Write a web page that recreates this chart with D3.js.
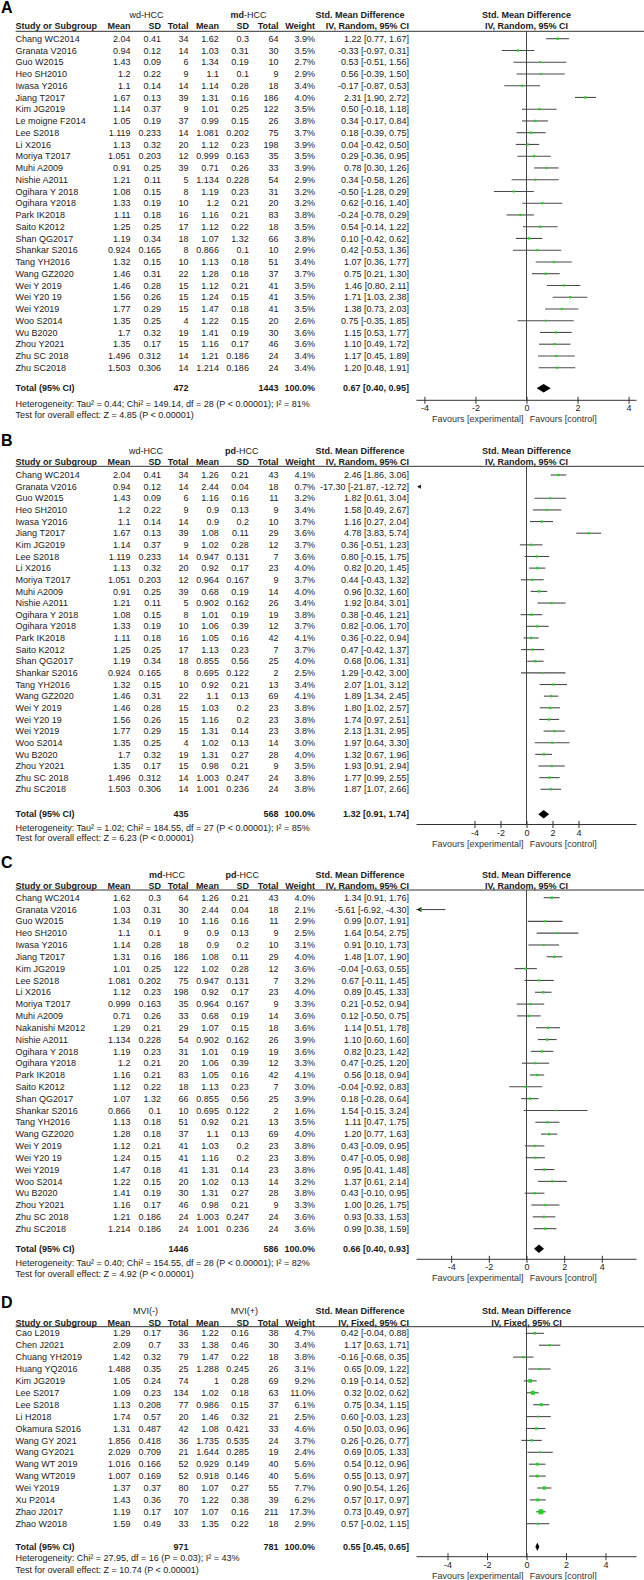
<!DOCTYPE html>
<html>
<head>
<meta charset="utf-8">
<script src="https://cdnjs.cloudflare.com/ajax/libs/d3/7.8.5/d3.min.js"></script>
<style>
body { margin: 0; background: #fff; }
svg text { font-family: "Liberation Sans", Arial, sans-serif; font-size: 9px; fill: #1a1a1a; }
</style>
</head>
<body>
<div id="chart"></div>
<script>
// ---------- Panel A: wd-HCC vs md-HCC ----------
var studiesA = ["Chang WC2014", "Granata V2016", "Guo W2015", "Heo SH2010", "Iwasa Y2016", "Jiang T2017",
    "Kim JG2019", "Le moigne F2014", "Lee S2018", "Li X2016", "Moriya T2017", "Muhi A2009", "Nishie A2011",
    "Ogihara Y 2018", "Ogihara Y2018", "Park IK2018", "Saito K2012", "Shan QG2017", "Shankar S2016",
    "Tang YH2016", "Wang GZ2020", "Wei Y 2019", "Wei Y20 19", "Wei Y2019", "Woo S2014", "Wu B2020",
    "Zhou Y2021", "Zhu SC 2018", "Zhu SC2018"];
var expA = [[2.04, 0.41, 34], [0.94, 0.12, 14], [1.43, 0.09, 6], [1.2, 0.22, 9], [1.1, 0.14, 14], [1.67, 0.13, 39],
    [1.14, 0.37, 9], [1.05, 0.19, 37], [1.119, 0.233, 14], [1.13, 0.32, 20], [1.051, 0.203, 12], [0.91, 0.25, 39],
    [1.21, 0.11, 5], [1.08, 0.15, 8], [1.33, 0.19, 10], [1.11, 0.18, 16], [1.25, 0.25, 17], [1.19, 0.34, 18],
    [0.924, 0.165, 8], [1.32, 0.15, 10], [1.46, 0.31, 22], [1.46, 0.28, 15], [1.56, 0.26, 15], [1.77, 0.29, 15],
    [1.35, 0.25, 4], [1.7, 0.32, 19], [1.35, 0.17, 15], [1.496, 0.312, 14], [1.503, 0.306, 14]];
var ctlA = [[1.62, 0.3, 64], [1.03, 0.31, 30], [1.34, 0.19, 10], [1.1, 0.1, 9], [1.14, 0.28, 18], [1.31, 0.16, 186],
    [1.01, 0.25, 122], [0.99, 0.15, 26], [1.081, 0.202, 75], [1.12, 0.23, 198], [0.999, 0.163, 35], [0.71, 0.26, 33],
    [1.134, 0.228, 54], [1.19, 0.23, 31], [1.2, 0.21, 20], [1.16, 0.21, 83], [1.12, 0.22, 18], [1.07, 1.32, 66],
    [0.866, 0.1, 10], [1.13, 0.18, 51], [1.28, 0.18, 37], [1.12, 0.21, 41], [1.24, 0.15, 41], [1.47, 0.18, 41],
    [1.22, 0.15, 20], [1.41, 0.19, 30], [1.16, 0.17, 46], [1.21, 0.186, 24], [1.214, 0.186, 24]];
var weightA = [3.9, 3.5, 2.7, 2.9, 3.4, 4.0, 3.5, 3.8, 3.7, 3.9, 3.5, 3.9, 2.9, 3.2, 3.2, 3.8, 3.5, 3.8, 2.9,
    3.4, 3.7, 3.5, 3.5, 3.5, 2.6, 3.6, 3.6, 3.4, 3.4];
var smdA = [[1.22, 0.77, 1.67], [-0.33, -0.97, 0.31], [0.53, -0.51, 1.56], [0.56, -0.39, 1.50], [-0.17, -0.87, 0.53],
    [2.31, 1.90, 2.72], [0.50, -0.18, 1.18], [0.34, -0.17, 0.84], [0.18, -0.39, 0.75], [0.04, -0.42, 0.50],
    [0.29, -0.36, 0.95], [0.78, 0.30, 1.26], [0.34, -0.58, 1.26], [-0.50, -1.28, 0.29], [0.62, -0.16, 1.40],
    [-0.24, -0.78, 0.29], [0.54, -0.14, 1.22], [0.10, -0.42, 0.62], [0.42, -0.53, 1.36], [1.07, 0.36, 1.77],
    [0.75, 0.21, 1.30], [1.46, 0.80, 2.11], [1.71, 1.03, 2.38], [1.38, 0.73, 2.03], [0.75, -0.35, 1.85],
    [1.15, 0.53, 1.77], [1.10, 0.49, 1.72], [1.17, 0.45, 1.89], [1.20, 0.48, 1.91]];
var totalA = [472, 1443];
var overallA = [0.67, 0.40, 0.95];
var groupsA = ["wd-HCC", "md-HCC"];
var hetA = "Heterogeneity: Tau\u00b2 = 0.44; Chi\u00b2 = 149.14, df = 28 (P < 0.00001); I\u00b2 = 81%";
var testA = "Test for overall effect: Z = 4.85 (P < 0.00001)";

// ---------- Panel B: wd-HCC vs pd-HCC ----------
var studiesB = ["Chang WC2014", "Granata V2016", "Guo W2015", "Heo SH2010", "Iwasa Y2016", "Jiang T2017",
    "Kim JG2019", "Lee S2018", "Li X2016", "Moriya T2017", "Muhi A2009", "Nishie A2011", "Ogihara Y 2018",
    "Ogihara Y2018", "Park IK2018", "Saito K2012", "Shan QG2017", "Shankar S2016", "Tang YH2016",
    "Wang GZ2020", "Wei Y 2019", "Wei Y20 19", "Wei Y2019", "Woo S2014", "Wu B2020", "Zhou Y2021",
    "Zhu SC 2018", "Zhu SC2018"];
var expB = [[2.04, 0.41, 34], [0.94, 0.12, 14], [1.43, 0.09, 6], [1.2, 0.22, 9], [1.1, 0.14, 14], [1.67, 0.13, 39],
    [1.14, 0.37, 9], [1.119, 0.233, 14], [1.13, 0.32, 20], [1.051, 0.203, 12], [0.91, 0.25, 39], [1.21, 0.11, 5],
    [1.08, 0.15, 8], [1.33, 0.19, 10], [1.11, 0.18, 16], [1.25, 0.25, 17], [1.19, 0.34, 18], [0.924, 0.165, 8],
    [1.32, 0.15, 10], [1.46, 0.31, 22], [1.46, 0.28, 15], [1.56, 0.26, 15], [1.77, 0.29, 15], [1.35, 0.25, 4],
    [1.7, 0.32, 19], [1.35, 0.17, 15], [1.496, 0.312, 14], [1.503, 0.306, 14]];
var ctlB = [[1.26, 0.21, 43], [2.44, 0.04, 18], [1.16, 0.16, 11], [0.9, 0.13, 9], [0.9, 0.2, 10], [1.08, 0.11, 29],
    [1.02, 0.28, 12], [0.947, 0.131, 7], [0.92, 0.17, 23], [0.964, 0.167, 9], [0.68, 0.19, 14], [0.902, 0.162, 26],
    [1.01, 0.19, 19], [1.06, 0.39, 12], [1.05, 0.16, 42], [1.13, 0.23, 7], [0.855, 0.56, 25], [0.695, 0.122, 2],
    [0.92, 0.21, 13], [1.1, 0.13, 69], [1.03, 0.2, 23], [1.16, 0.2, 23], [1.31, 0.14, 23], [1.02, 0.13, 14],
    [1.31, 0.27, 28], [0.98, 0.21, 9], [1.003, 0.247, 24], [1.001, 0.236, 24]];
var weightB = [4.1, 0.7, 3.2, 3.4, 3.7, 3.6, 3.7, 3.6, 4.0, 3.7, 4.0, 3.4, 3.8, 3.7, 4.1, 3.7, 4.0, 2.5, 3.4,
    4.1, 3.8, 3.8, 3.8, 3.0, 4.0, 3.5, 3.8, 3.8];
var smdB = [[2.46, 1.86, 3.06], [-17.30, -21.87, -12.72], [1.82, 0.61, 3.04], [1.58, 0.49, 2.67], [1.16, 0.27, 2.04],
    [4.78, 3.83, 5.74], [0.36, -0.51, 1.23], [0.80, -0.15, 1.75], [0.82, 0.20, 1.45], [0.44, -0.43, 1.32],
    [0.96, 0.32, 1.60], [1.92, 0.84, 3.01], [0.38, -0.46, 1.21], [0.82, -0.06, 1.70], [0.36, -0.22, 0.94],
    [0.47, -0.42, 1.37], [0.68, 0.06, 1.31], [1.29, -0.42, 3.00], [2.07, 1.01, 3.12], [1.89, 1.34, 2.45],
    [1.80, 1.02, 2.57], [1.74, 0.97, 2.51], [2.13, 1.31, 2.95], [1.97, 0.64, 3.30], [1.32, 0.67, 1.96],
    [1.93, 0.91, 2.94], [1.77, 0.99, 2.55], [1.87, 1.07, 2.66]];
var totalB = [435, 568];
var overallB = [1.32, 0.91, 1.74];
var groupsB = ["wd-HCC", "pd-HCC"];
var hetB = "Heterogeneity: Tau\u00b2 = 1.02; Chi\u00b2 = 184.55, df = 27 (P < 0.00001); I\u00b2 = 85%";
var testB = "Test for overall effect: Z = 6.23 (P < 0.00001)";

// ---------- Panel C: md-HCC vs pd-HCC ----------
var studiesC = ["Chang WC2014", "Granata V2016", "Guo W2015", "Heo SH2010", "Iwasa Y2016", "Jiang T2017",
    "Kim JG2019", "Lee S2018", "Li X2016", "Moriya T2017", "Muhi A2009", "Nakanishi M2012", "Nishie A2011",
    "Ogihara Y 2018", "Ogihara Y2018", "Park IK2018", "Saito K2012", "Shan QG2017", "Shankar S2016",
    "Tang YH2016", "Wang GZ2020", "Wei Y 2019", "Wei Y20 19", "Wei Y2019", "Woo S2014", "Wu B2020",
    "Zhou Y2021", "Zhu SC 2018", "Zhu SC2018"];
var expC = [[1.62, 0.3, 64], [1.03, 0.31, 30], [1.34, 0.19, 10], [1.1, 0.1, 9], [1.14, 0.28, 18], [1.31, 0.16, 186],
    [1.01, 0.25, 122], [1.081, 0.202, 75], [1.12, 0.23, 198], [0.999, 0.163, 35], [0.71, 0.26, 33], [1.29, 0.21, 29],
    [1.134, 0.228, 54], [1.19, 0.23, 31], [1.2, 0.21, 20], [1.16, 0.21, 83], [1.12, 0.22, 18], [1.07, 1.32, 66],
    [0.866, 0.1, 10], [1.13, 0.18, 51], [1.28, 0.18, 37], [1.12, 0.21, 41], [1.24, 0.15, 41], [1.47, 0.18, 41],
    [1.22, 0.15, 20], [1.41, 0.19, 30], [1.16, 0.17, 46], [1.21, 0.186, 24], [1.214, 0.186, 24]];
var ctlC = [[1.26, 0.21, 43], [2.44, 0.04, 18], [1.16, 0.16, 11], [0.9, 0.13, 9], [0.9, 0.2, 10], [1.08, 0.11, 29],
    [1.02, 0.28, 12], [0.947, 0.131, 7], [0.92, 0.17, 23], [0.964, 0.167, 9], [0.68, 0.19, 14], [1.07, 0.15, 18],
    [0.902, 0.162, 26], [1.01, 0.19, 19], [1.06, 0.39, 12], [1.05, 0.16, 42], [1.13, 0.23, 7], [0.855, 0.56, 25],
    [0.695, 0.122, 2], [0.92, 0.21, 13], [1.1, 0.13, 69], [1.03, 0.2, 23], [1.16, 0.2, 23], [1.31, 0.14, 23],
    [1.02, 0.13, 14], [1.31, 0.27, 28], [0.98, 0.21, 9], [1.003, 0.247, 24], [1.001, 0.236, 24]];
var weightC = [4.0, 2.1, 2.9, 2.5, 3.1, 4.0, 3.6, 3.2, 4.0, 3.3, 3.6, 3.6, 3.9, 3.6, 3.3, 4.1, 3.0, 3.9, 1.6,
    3.5, 4.0, 3.8, 3.8, 3.8, 3.2, 3.8, 3.3, 3.6, 3.6];
var smdC = [[1.34, 0.91, 1.76], [-5.61, -6.92, -4.30], [0.99, 0.07, 1.91], [1.64, 0.54, 2.75], [0.91, 0.10, 1.73],
    [1.48, 1.07, 1.90], [-0.04, -0.63, 0.55], [0.67, -0.11, 1.45], [0.89, 0.45, 1.33], [0.21, -0.52, 0.94],
    [0.12, -0.50, 0.75], [1.14, 0.51, 1.78], [1.10, 0.60, 1.60], [0.82, 0.23, 1.42], [0.47, -0.25, 1.20],
    [0.56, 0.18, 0.94], [-0.04, -0.92, 0.83], [0.18, -0.28, 0.64], [1.54, -0.15, 3.24], [1.11, 0.47, 1.75],
    [1.20, 0.77, 1.63], [0.43, -0.09, 0.95], [0.47, -0.05, 0.98], [0.95, 0.41, 1.48], [1.37, 0.61, 2.14],
    [0.43, -0.10, 0.95], [1.00, 0.26, 1.75], [0.93, 0.33, 1.53], [0.99, 0.38, 1.59]];
var totalC = [1446, 586];
var overallC = [0.66, 0.40, 0.93];
var groupsC = ["md-HCC", "pd-HCC"];
var hetC = "Heterogeneity: Tau\u00b2 = 0.40; Chi\u00b2 = 154.55, df = 28 (P < 0.00001); I\u00b2 = 82%";
var testC = "Test for overall effect: Z = 4.92 (P < 0.00001)";

// ---------- Panel D: MVI(-) vs MVI(+) ----------
var studiesD = ["Cao L2019", "Chen J2021", "Chuang YH2019", "Huang YQ2016", "Kim JG2019", "Lee S2017",
    "Lee S2018", "Li H2018", "Okamura S2016", "Wang GY 2021", "Wang GY2021", "Wang WT 2019", "Wang WT2019",
    "Wei Y2019", "Xu P2014", "Zhao J2017", "Zhao W2018"];
var expD = [[1.29, 0.17, 36], [2.09, 0.7, 33], [1.42, 0.32, 79], [1.488, 0.35, 25], [1.05, 0.24, 74],
    [1.09, 0.23, 134], [1.13, 0.208, 77], [1.74, 0.57, 20], [1.31, 0.487, 42], [1.856, 0.418, 36],
    [2.029, 0.709, 21], [1.016, 0.166, 52], [1.007, 0.169, 52], [1.37, 0.37, 80], [1.43, 0.36, 70],
    [1.19, 0.17, 107], [1.59, 0.49, 33]];
var ctlD = [[1.22, 0.16, 38], [1.38, 0.46, 30], [1.47, 0.22, 18], [1.288, 0.245, 26], [1, 0.28, 69],
    [1.02, 0.18, 63], [0.986, 0.15, 37], [1.46, 0.32, 21], [1.08, 0.421, 33], [1.735, 0.535, 24],
    [1.644, 0.285, 19], [0.929, 0.149, 40], [0.918, 0.146, 40], [1.07, 0.27, 55], [1.22, 0.38, 39],
    [1.07, 0.16, 211], [1.35, 0.22, 18]];
var weightD = [4.7, 3.4, 3.8, 3.1, 9.2, 11.0, 6.1, 2.5, 4.6, 3.7, 2.4, 5.6, 5.6, 7.7, 6.2, 17.3, 2.9];
var smdD = [[0.42, -0.04, 0.88], [1.17, 0.63, 1.71], [-0.16, -0.68, 0.35], [0.65, 0.09, 1.22], [0.19, -0.14, 0.52],
    [0.32, 0.02, 0.62], [0.75, 0.34, 1.15], [0.60, -0.03, 1.23], [0.50, 0.03, 0.96], [0.26, -0.26, 0.77],
    [0.69, 0.05, 1.33], [0.54, 0.12, 0.96], [0.55, 0.13, 0.97], [0.90, 0.54, 1.26], [0.57, 0.17, 0.97],
    [0.73, 0.49, 0.97], [0.57, -0.02, 1.15]];
var totalD = [971, 781];
var overallD = [0.55, 0.45, 0.65];
var groupsD = ["MVI(-)", "MVI(+)"];
var hetD = "Heterogeneity: Chi\u00b2 = 27.95, df = 16 (P = 0.03); I\u00b2 = 43%";
var testD = "Test for overall effect: Z = 10.74 (P < 0.00001)";

var tickValues = [-4, -2, 0, 2, 4];

// column anchors (right aligned numbers)
var col = { name: 15.6, mean1: 130.6, sd1: 161, n1: 188.5, mean2: 218.9, sd2: 248.9, n2: 278.5, weight: 315, ci: 409 };
var plotLeft = 416.5, plotRight = 636.5;

var panels = [
    { letter: "A", studies: studiesA, exp: expA, ctl: ctlA, weight: weightA, smd: smdA, total: totalA, overall: overallA,
      groups: groupsA, groupX: [146.4, 248.5], het: hetA, test: testA, model: "IV, Random, 95% CI", lim: 4.31,
      y: { label: 13.3, h1: 14.7, h2: 26, line: 31.3, row0: 38.7, dy: 11.75, total: 388.3, axis: 400.3, het: 404.3, test: 415 } },
    { letter: "B", studies: studiesB, exp: expB, ctl: ctlB, weight: weightB, smd: smdB, total: totalB, overall: overallB,
      groups: groupsB, groupX: [146, 241.7], het: hetB, test: testB, model: "IV, Random, 95% CI", lim: 8.46,
      y: { label: 446, h1: 451, h2: 462.3, line: 466.3, row0: 475, dy: 11.64, total: 814.3, axis: 824.5, het: 827.7, test: 838.3 } },
    { letter: "C", studies: studiesC, exp: expC, ctl: ctlC, weight: weightC, smd: smdC, total: totalC, overall: overallC,
      groups: groupsC, groupX: [167, 242.3], het: hetC, test: testC, model: "IV, Random, 95% CI", lim: 5.84,
      y: { label: 868.3, h1: 875, h2: 886, line: 890, row0: 897.7, dy: 11.82, total: 1248.7, axis: 1259.3, het: 1263, test: 1273.7 } },
    { letter: "D", studies: studiesD, exp: expD, ctl: ctlD, weight: weightD, smd: smdD, total: totalD, overall: overallD,
      groups: groupsD, groupX: [145.6, 244.4], het: hetD, test: testD, model: "IV, Fixed, 95% CI", lim: 5.57,
      y: { label: 1307.7, h1: 1311, h2: 1322.7, line: 1326.7, row0: 1333.3, dy: 11.9, total: 1546.7, axis: 1556.7, het: 1558.3, test: 1570 } }
];

var svg = d3.select("#chart").append("svg")
    .attr("width", 644)
    .attr("height", 1580);

function fmt2(v) { return v.toFixed(2); }
function ciText(s) { return fmt2(s[0]) + " [" + fmt2(s[1]) + ", " + fmt2(s[2]) + "]"; }

// small helper for a text label
function label(g, x, y, txt, anchor, bold) {
    return g.append("text")
        .attr("x", x).attr("y", y).attr("dy", "0.35em")
        .attr("text-anchor", anchor || "start")
        .style("font-weight", bold ? "bold" : "normal")
        .text(txt);
}

function drawPanel(p) {
    var g = svg.append("g");
    var Y = p.y;
    var x = d3.scaleLinear().domain([-p.lim, p.lim]).range([plotLeft, plotRight]);
    var x0 = x(0);

    // panel letter
    g.append("text").attr("x", 1).attr("y", Y.label)
        .style("font-size", "16px").style("font-weight", "bold").style("fill", "#000")
        .text(p.letter);

    // group headers (md / pd prefix shown bold)
    p.groups.forEach(function(name, k) {
        var t = g.append("text").attr("x", p.groupX[k]).attr("y", Y.h1).attr("dy", "0.35em")
            .attr("text-anchor", "middle");
        var m = name.match(/^(md|pd|wd)(-.*)$/);
        if (m) {
            t.append("tspan").style("font-weight", m[1] === "wd" ? "normal" : "bold").text(m[1]);
            t.append("tspan").text(m[2]);
        } else {
            t.text(name);
        }
    });
    label(g, 404.5, Y.h1, "Std. Mean Difference", "end", true);
    label(g, x0, Y.h1, "Std. Mean Difference", "middle", true);

    // column headers
    label(g, col.name, Y.h2, "Study or Subgroup", "start", true);
    [["mean1", "Mean"], ["sd1", "SD"], ["n1", "Total"], ["mean2", "Mean"], ["sd2", "SD"], ["n2", "Total"], ["weight", "Weight"]]
        .forEach(function(h) { label(g, col[h[0]], Y.h2, h[1], "end", true); });
    label(g, col.ci, Y.h2, p.model, "end", true);
    label(g, x0, Y.h2, p.model, "middle", true);

    // header rule
    g.append("line").attr("x1", col.name).attr("x2", 644).attr("y1", Y.line).attr("y2", Y.line)
        .attr("stroke", "#333").attr("stroke-width", 1);

    function rowY(i) { return Y.row0 + i * Y.dy; }

    // table rows
    var rows = g.selectAll("g.row").data(p.studies).enter().append("g").attr("class", "row");
    rows.append("text").attr("x", col.name).attr("y", function(d, i) { return rowY(i); }).attr("dy", "0.35em")
        .text(function(d) { return d; });
    var cells = [
        ["mean1", function(i) { return p.exp[i][0]; }], ["sd1", function(i) { return p.exp[i][1]; }],
        ["n1", function(i) { return p.exp[i][2]; }], ["mean2", function(i) { return p.ctl[i][0]; }],
        ["sd2", function(i) { return p.ctl[i][1]; }], ["n2", function(i) { return p.ctl[i][2]; }],
        ["weight", function(i) { return p.weight[i].toFixed(1) + "%"; }], ["ci", function(i) { return ciText(p.smd[i]); }]
    ];
    cells.forEach(function(c) {
        rows.append("text").attr("x", col[c[0]]).attr("y", function(d, i) { return rowY(i); }).attr("dy", "0.35em")
            .attr("text-anchor", "end")
            .text(function(d, i) { return String(c[1](i)); });
    });

    // total row
    label(g, col.name, Y.total, "Total (95% CI)", "start", true);
    label(g, col.n1, Y.total, String(p.total[0]), "end", true);
    label(g, col.n2, Y.total, String(p.total[1]), "end", true);
    label(g, col.weight, Y.total, "100.0%", "end", true);
    label(g, col.ci, Y.total, ciText(p.overall), "end", true);
    label(g, col.name, Y.het, p.het, "start", false);
    label(g, col.name, Y.test, p.test, "start", false);

    // zero line
    g.append("line").attr("x1", x0).attr("x2", x0).attr("y1", Y.line).attr("y2", Y.axis)
        .attr("stroke", "#444").attr("stroke-width", 1);

    // CI lines, markers, off-scale arrows
    var lo = -p.lim, hi = p.lim;
    p.smd.forEach(function(s, i) {
        var y = rowY(i);
        if (s[2] < lo) {
            // entirely off the left edge: small arrowhead
            g.append("path")
                .attr("d", "M" + (plotLeft + 0.5) + "," + y + "L" + (plotLeft + 4.5) + "," + (y - 2.2) + "L" + (plotLeft + 4.5) + "," + (y + 2.2) + "Z")
                .attr("fill", "#222");
            return;
        }
        var a = Math.max(s[1], lo), b = Math.min(s[2], hi);
        g.append("line").attr("x1", x(a)).attr("x2", x(b)).attr("y1", y).attr("y2", y)
            .attr("stroke", "#4a4a4a").attr("stroke-width", 1.1);
        if (s[1] < lo) {
            g.append("path")
                .attr("d", "M" + plotLeft + "," + y + "L" + (plotLeft + 5) + "," + (y - 2.5) + "L" + (plotLeft + 5) + "," + (y + 2.5) + "Z")
                .attr("fill", "#222");
        }
        if (s[0] >= lo && s[0] <= hi) {
            var side = 1.2 * Math.sqrt(p.weight[i]);
            g.append("rect").attr("x", x(s[0]) - side / 2).attr("y", y - side / 2)
                .attr("width", side).attr("height", side).attr("fill", "#1fd41f");
        }
    });

    // overall diamond
    var o = p.overall, yt = Y.total;
    g.append("path")
        .attr("d", "M" + x(o[1]) + "," + yt + "L" + x(o[0]) + "," + (yt - 4.2) + "L" + x(o[2]) + "," + yt +
            "L" + x(o[0]) + "," + (yt + 4.2) + "Z")
        .attr("fill", "#000");

    // axis
    g.append("line").attr("x1", plotLeft).attr("x2", plotRight).attr("y1", Y.axis).attr("y2", Y.axis)
        .attr("stroke", "#333").attr("stroke-width", 1);
    var axis = d3.axisBottom(x).tickValues(tickValues).tickSizeInner(7).tickSizeOuter(0).tickPadding(1.3)
        .tickFormat(d3.format("d"));
    var ag = g.append("g").attr("transform", "translate(0," + (Y.axis - 3.5) + ")").call(axis);
    ag.select(".domain").remove();
    ag.selectAll(".tick line").attr("stroke", "#333");
    ag.selectAll(".tick text").attr("font-family", null).attr("font-size", null).attr("fill", null)
        .text(function(d) { return d < 0 ? "-" + Math.abs(d) : d; });

    label(g, x0 - 3, Y.axis + 19, "Favours [experimental]", "end", false).style("fill", "#333");
    label(g, x0 + 3.3, Y.axis + 19, "Favours [control]", "start", false).style("fill", "#333");
}

panels.forEach(drawPanel);
</script>
</body>
</html>
